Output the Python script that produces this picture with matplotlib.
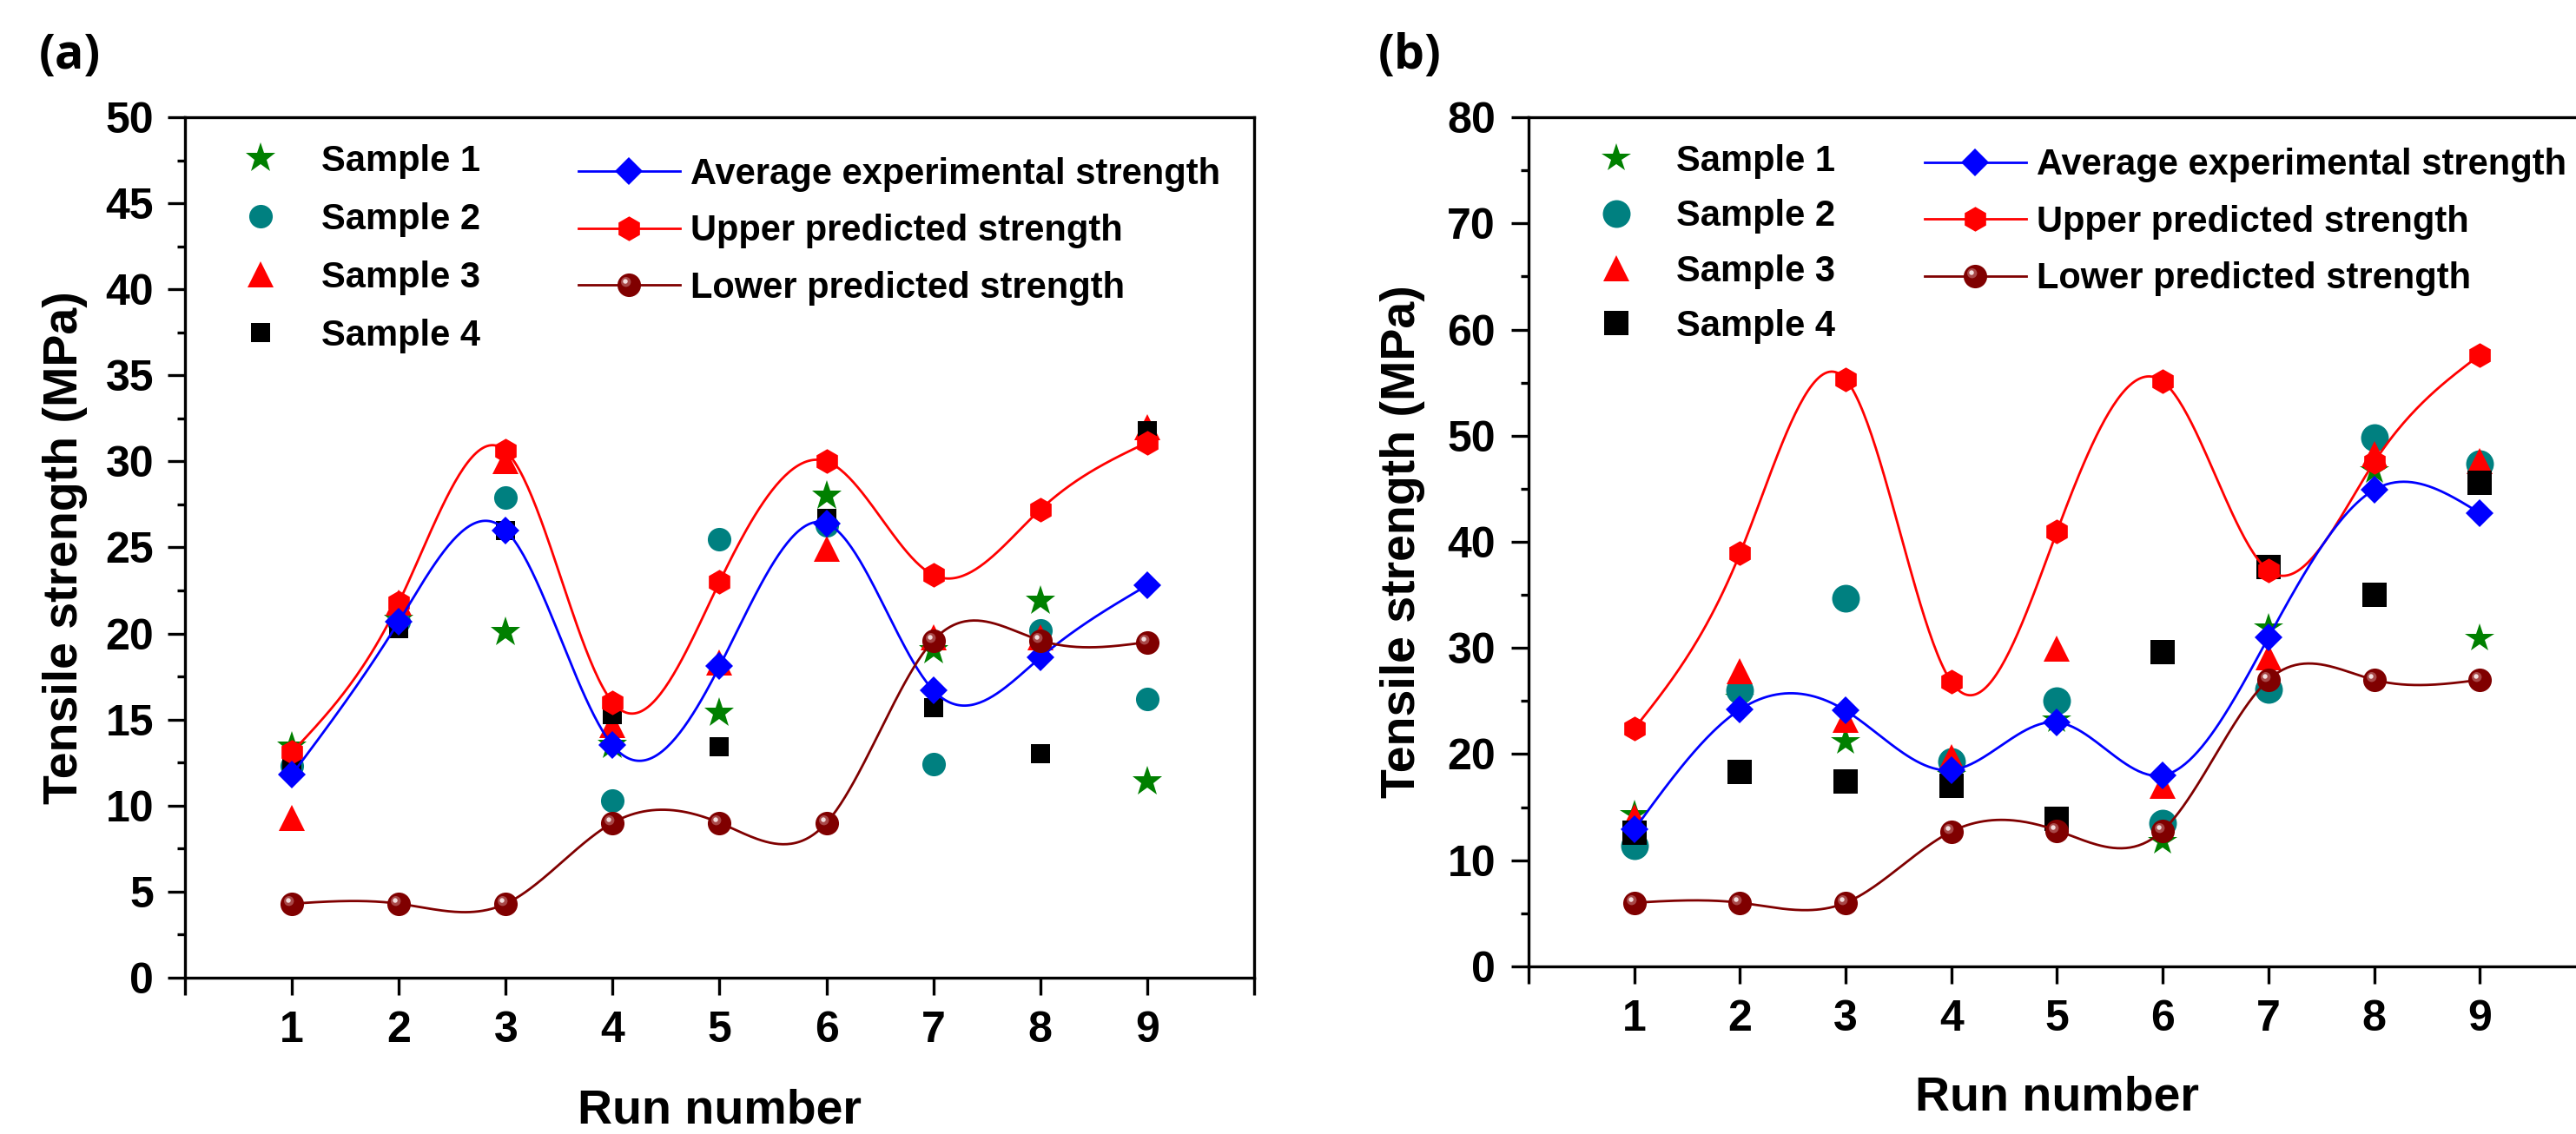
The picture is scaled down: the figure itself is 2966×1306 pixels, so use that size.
import numpy as np
import matplotlib
matplotlib.use('Agg')
import matplotlib.pyplot as plt
from matplotlib.lines import Line2D
from matplotlib.path import Path
from matplotlib.markers import MarkerStyle
from matplotlib.legend_handler import HandlerTuple
from matplotlib.ticker import MultipleLocator

plt.rcParams['font.family'] = ['Liberation Sans', 'DejaVu Sans']
plt.rcParams['font.weight'] = 'bold'

runs = np.arange(1, 10)
run_labels = ['', '1', '2', '3', '4', '5', '6', '7', '8', '9', '']

# (a) tensile strength, MPa
a_s1 = [13.4, 20.8, 20.1, 13.5, 15.4, 28.0, 19.0, 21.9, 11.4]
a_s2 = [12.3, 20.7, 27.9, 10.3, 25.5, 26.3, 12.4, 20.2, 16.2]
a_s3 = [9.3, 21.8, 30.0, 14.7, 18.3, 24.9, 19.8, 19.8, 32.0]
a_s4 = [12.2, 20.3, 26.0, 15.3, 13.4, 26.7, 15.7, 13.0, 31.8]
a_avg = [11.8, 20.7, 26.0, 13.5, 18.1, 26.4, 16.7, 18.6, 22.8]
a_upper = [13.1, 21.8, 30.6, 16.0, 23.0, 30.0, 23.4, 27.2, 31.1]
a_lower = [4.3, 4.3, 4.3, 9.0, 9.0, 9.0, 19.6, 19.6, 19.5]

# (b) tensile strength, MPa
b_s1 = [14.3, 25.3, 21.2, 18.0, 23.2, 11.8, 31.9, 46.7, 30.9]
b_s2 = [11.4, 26.0, 34.7, 19.3, 25.0, 13.5, 26.1, 49.8, 47.4]
b_s3 = [14.1, 27.8, 23.2, 19.7, 29.9, 17.0, 29.1, 48.3, 47.6]
b_s4 = [12.6, 18.3, 17.4, 17.0, 13.9, 29.6, 37.6, 35.0, 45.6]
b_avg = [12.9, 24.2, 24.1, 18.5, 23.0, 18.0, 31.0, 44.9, 42.7]
b_upper = [22.4, 38.9, 55.3, 26.8, 41.0, 55.1, 37.3, 47.5, 57.6]
b_lower = [6.0, 6.0, 6.0, 12.7, 12.8, 12.8, 27.0, 27.0, 27.0]

sample_names = ['Sample 1', 'Sample 2', 'Sample 3', 'Sample 4']
curve_names = ['Average experimental strength', 'Upper predicted strength',
               'Lower predicted strength']


def spline(x, y, n=400):
    # natural cubic spline through the points
    x = np.asarray(x, float)
    y = np.asarray(y, float)
    h = np.diff(x)
    k = len(x)
    A = np.zeros((k, k))
    r = np.zeros(k)
    A[0, 0] = A[-1, -1] = 1
    for i in range(1, k - 1):
        A[i, i - 1] = h[i - 1]
        A[i, i] = 2 * (h[i - 1] + h[i])
        A[i, i + 1] = h[i]
        r[i] = 6 * ((y[i + 1] - y[i]) / h[i] - (y[i] - y[i - 1]) / h[i - 1])
    m = np.linalg.solve(A, r)
    xs = np.linspace(x[0], x[-1], n)
    j = np.clip(np.searchsorted(x, xs) - 1, 0, k - 2)
    t0 = x[j + 1] - xs
    t1 = xs - x[j]
    ys = ((m[j] * t0 ** 3 + m[j + 1] * t1 ** 3) / (6 * h[j])
          + (y[j] / h[j] - m[j] * h[j] / 6) * t0
          + (y[j + 1] / h[j] - m[j + 1] * h[j] / 6) * t1)
    return xs, ys


def spot(cx, cy, r):
    # highlight on the ball marker; the lone MOVETO keeps the scale of the full ball
    circ = Path.circle((cx, cy), r)
    verts = np.vstack([[1.0, 0.0], circ.vertices])
    codes = np.concatenate([[Path.MOVETO], circ.codes])
    return MarkerStyle(Path(verts, codes))


SPOT_BIG = spot(-0.28, 0.28, 0.42)
SPOT_SMALL = spot(-0.33, 0.33, 0.2)


def panel(ax, s1, s2, s3, s4, avg, upper, lower, ymax, ystep, ms, leg):
    star_ms, circ_ms, tri_ms, sq_ms = ms
    ax.plot(runs, s1, ls='none', marker='*', ms=star_ms, color='#008000', mew=0)
    ax.plot(runs, s2, ls='none', marker='o', ms=circ_ms, color='#008080', mew=0)
    ax.plot(runs, s3, ls='none', marker='^', ms=tri_ms, color='#ff0000', mew=0)
    ax.plot(runs, s4, ls='none', marker='s', ms=sq_ms, color='black', mew=0)

    xs, ys = spline(runs, upper)
    ax.plot(xs, ys, color='#ff0000', lw=2.0)
    ax.plot(runs, upper, ls='none', marker='h', ms=20.5, color='#ff0000', mew=0)

    xs, ys = spline(runs, avg)
    ax.plot(xs, ys, color='#0000ff', lw=2.0)
    ax.plot(runs, avg, ls='none', marker='D', ms=16.3, color='#0000ff', mew=0)

    xs, ys = spline(runs, lower)
    ax.plot(xs, ys, color='#800000', lw=2.0)
    ax.plot(runs, lower, ls='none', marker='o', ms=19.5, color='#800000', mew=0)
    ax.plot(runs, lower, ls='none', marker=SPOT_BIG, ms=19.5, color='#a84848', mew=0)
    ax.plot(runs, lower, ls='none', marker=SPOT_SMALL, ms=19.5, color='#f2dede', mew=0)

    ax.set_xlim(0, 10)
    ax.set_ylim(0, ymax)
    ax.set_xticks(range(11))
    ax.set_xticklabels(run_labels)
    ax.yaxis.set_major_locator(MultipleLocator(ystep))
    ax.yaxis.set_minor_locator(MultipleLocator(ystep / 2))
    ax.tick_params(which='major', direction='out', length=14.4, width=2.4, labelsize=36)
    ax.tick_params(which='minor', direction='out', length=6.5, width=2.4)
    ax.tick_params(axis='x', which='minor', bottom=False)
    ax.tick_params(axis='x', pad=13)
    ax.tick_params(axis='y', pad=leg['ypad'])
    for sp in ax.spines.values():
        sp.set_linewidth(2.4)

    ax.set_xlabel('Run number', fontsize=40, fontweight='bold', va='center')
    ax.xaxis.set_label_coords(0.5, -0.1544)
    ax.set_ylabel('Tensile strength (MPa)', fontsize=40, fontweight='bold', va='center')
    ax.yaxis.set_label_coords(leg['ylab'], 0.5)

    # legend for the single samples
    h_samples = [
        Line2D([], [], ls='none', marker='*', ms=star_ms, color='#008000', mew=0),
        Line2D([], [], ls='none', marker='o', ms=circ_ms, color='#008080', mew=0),
        Line2D([], [], ls='none', marker='^', ms=tri_ms, color='#ff0000', mew=0),
        Line2D([], [], ls='none', marker='s', ms=sq_ms, color='black', mew=0),
    ]
    lg1 = ax.legend(h_samples, sample_names, loc='upper left',
                    bbox_to_anchor=leg['left'], frameon=False, borderpad=0,
                    borderaxespad=0, handlelength=1.0, handletextpad=leg['pad1'],
                    labelspacing=leg['sp1'], fontsize=30, numpoints=1)
    ax.add_artist(lg1)

    # legend for the fitted curves
    h_curves = [
        Line2D([], [], color='#0000ff', lw=2.0, marker='D', ms=16.3, mew=0),
        Line2D([], [], color='#ff0000', lw=2.0, marker='h', ms=20.5, mew=0),
        (Line2D([], [], color='#800000', lw=2.0, marker='o', ms=19.5, mew=0),
         Line2D([], [], ls='none', marker=SPOT_BIG, ms=19.5, color='#a84848', mew=0),
         Line2D([], [], ls='none', marker=SPOT_SMALL, ms=19.5, color='#f2dede', mew=0)),
    ]
    ax.legend(h_curves, curve_names, loc='upper left',
              bbox_to_anchor=leg['right'], frameon=False, borderpad=0,
              borderaxespad=0, handlelength=2.8, handletextpad=0.29,
              labelspacing=leg['sp2'], fontsize=30, numpoints=1,
              handler_map={tuple: HandlerTuple(ndivide=1, pad=0)})


fig = plt.figure(figsize=(29.66, 13.06), dpi=100)
ax_a = fig.add_axes([0.07181, 0.13783, 0.41504, 0.75881])
ax_b = fig.add_axes([0.59339, 0.14778, 0.41032, 0.74885])

panel(ax_a, a_s1, a_s2, a_s3, a_s4, a_avg, a_upper, a_lower, 50, 5,
      (26, 19.5, 22, 16),
      dict(left=(0.0538, 0.969), right=(0.368, 0.9535), pad1=1.18,
           sp1=0.65, sp2=0.61, ylab=-0.112, ypad=11.5))
panel(ax_b, b_s1, b_s2, b_s3, b_s4, b_avg, b_upper, b_lower, 80, 10,
      (25, 23, 21, 19.5),
      dict(left=(0.0657, 0.9683), right=(0.3747, 0.9638), pad1=1.16,
           sp1=0.56, sp2=0.61, ylab=-0.1195, ypad=13))

fig.text(45 / 2966, 1 - 64 / 1306, '(a)', fontsize=40, family=['Open Sans', 'DejaVu Sans'],
         fontweight='bold', va='center', ha='left')
fig.text(1587 / 2966, 1 - 64 / 1306, '(b)', fontsize=40, family=['Open Sans', 'DejaVu Sans'],
         fontweight='bold', va='center', ha='left')

fig.savefig('out.png', dpi=100)
